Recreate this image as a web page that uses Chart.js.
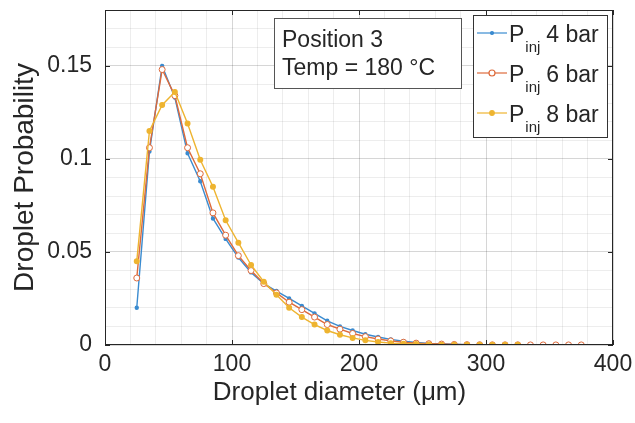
<!DOCTYPE html>
<html>
<head>
    <title>Droplet Probability</title>
    <script src="https://cdn.jsdelivr.net/npm/chart.js"></script>
    <style>
        body { margin: 0; background: #fff; }
    </style>
</head>
<body>
    <canvas id="myChart" width="635" height="423"></canvas>

    <script>
        // droplet diameter bins (um)
        var diameters = [25, 35, 45, 55, 65, 75, 85, 95, 105, 115, 125, 135, 145, 155, 165, 175, 185, 195,
                         205, 215, 225, 235, 245, 255, 265, 275, 285, 295, 305, 315, 325, 335, 345, 355, 365, 375];

        var prob4bar = [0.020, 0.104, 0.150, 0.133, 0.103, 0.088, 0.068, 0.057, 0.047, 0.039, 0.033, 0.029,
                        0.025, 0.021, 0.017, 0.013, 0.010, 0.0078, 0.0058, 0.0043, 0.003, 0.002, 0.0014,
                        0.0009, 0.0006, 0.0004, 0.0002, 0.0001];
        var prob6bar = [0.036, 0.106, 0.148, 0.134, 0.106, 0.092, 0.071, 0.059, 0.048, 0.040, 0.033, 0.028,
                        0.023, 0.019, 0.015, 0.011, 0.0085, 0.0062, 0.0045, 0.0032, 0.0022, 0.0015, 0.001,
                        0.0007, 0.0005, 0.0003, 0.0002, 0.00015, 0.0001, 0.0001, 0.0001, 0.00005, 0.00005,
                        0.00005, 0.00005, 0.00005];
        var prob8bar = [0.045, 0.115, 0.129, 0.136, 0.119, 0.0995, 0.085, 0.067, 0.055, 0.043, 0.034, 0.027,
                        0.020, 0.015, 0.011, 0.0078, 0.0055, 0.0038, 0.0025, 0.0016, 0.001, 0.0007, 0.0005,
                        0.0003, 0.0002, 0.0002, 0.0001, 0.0001, 0.0001, 0.0001, 0.0001];

        var seriesLabels = ['4 bar', '6 bar', '8 bar'];
        var xTickValues = [0, 100, 200, 300, 400];
        var yTickValues = [0, 0.05, 0.1, 0.15];
        var yTickLabels = ['0', '0.05', '0.1', '0.15'];
        var noteLines = ['Position 3', 'Temp = 180 \u00B0C'];

        var colors = ['#3a8bd0', '#dd6a3b', '#eeb430'];
        var FONT = "'Liberation Sans', Arial, sans-serif";

        function toPoints(arr) {
            return arr.map(function (v, i) { return { x: diameters[i], y: v }; });
        }
        function isTick(list, v) {
            return list.some(function (t) { return Math.abs(t - v) < 1e-6; });
        }

        Chart.defaults.font.family = FONT;
        Chart.defaults.color = '#262626';

        // MATLAB-like box, inward ticks, text note and legend with subscripts
        var decorations = {
            id: 'decorations',
            afterDraw: function (chart) {
                var c = chart.ctx, a = chart.chartArea;
                var xs = chart.scales.x, ys = chart.scales.y;
                c.save();
                c.strokeStyle = '#262626';
                c.lineWidth = 1;
                c.strokeRect(a.left + 0.5, a.top + 0.5, a.right - a.left - 1, a.bottom - a.top - 1);
                c.beginPath();
                xTickValues.forEach(function (v) {
                    var px = Math.round(xs.getPixelForValue(v)) + 0.5;
                    c.moveTo(px, a.bottom); c.lineTo(px, a.bottom - 5);
                    c.moveTo(px, a.top); c.lineTo(px, a.top + 5);
                });
                yTickValues.forEach(function (v) {
                    var py = Math.round(ys.getPixelForValue(v)) + 0.5;
                    c.moveTo(a.left, py); c.lineTo(a.left + 5, py);
                    c.moveTo(a.right, py); c.lineTo(a.right - 5, py);
                });
                c.stroke();

                // note box
                c.fillStyle = '#fff';
                c.fillRect(274, 18, 187, 70);
                c.strokeStyle = '#555';
                c.strokeRect(274.5, 18.5, 187, 70);
                c.fillStyle = '#262626';
                c.font = '23px ' + FONT;
                c.textBaseline = 'middle';
                c.fillText(noteLines[0], 282, 41);
                c.fillText(noteLines[1], 282, 69);

                // legend box
                c.fillStyle = '#fff';
                c.fillRect(473, 15, 134, 122);
                c.strokeStyle = '#333';
                c.strokeRect(473.5, 15.5, 134, 122);
                chart.data.datasets.forEach(function (ds, i) {
                    var y = 33 + i * 40;
                    c.strokeStyle = ds.borderColor;
                    c.lineWidth = 1.2;
                    c.beginPath(); c.moveTo(477, y); c.lineTo(507, y); c.stroke();
                    c.beginPath();
                    c.arc(492, y, ds.pointRadius, 0, Math.PI * 2);
                    c.fillStyle = ds.pointBackgroundColor;
                    c.fill(); c.stroke();
                    c.fillStyle = '#262626';
                    c.textBaseline = 'alphabetic';
                    c.font = '23px ' + FONT;
                    c.fillText('P', 509, y + 9);
                    var pw = c.measureText('P').width;
                    c.font = '15px ' + FONT;
                    c.fillText('inj', 509 + pw + 1, y + 19);
                    var iw = c.measureText('inj').width;
                    c.font = '23px ' + FONT;
                    c.fillText(seriesLabels[i], 509 + pw + iw + 7, y + 9);
                });
                c.restore();
            }
        };

        var ctx = document.getElementById('myChart').getContext('2d');
        var myChart = new Chart(ctx, {
            type: 'line',
            data: {
                datasets: [{
                    label: 'Pinj 4 bar',
                    data: toPoints(prob4bar),
                    borderColor: colors[0],
                    pointBackgroundColor: colors[0],
                    pointBorderColor: colors[0],
                    pointRadius: 1.5,
                    borderWidth: 1.4,
                    order: 3
                }, {
                    label: 'Pinj 6 bar',
                    data: toPoints(prob6bar),
                    borderColor: colors[1],
                    pointBackgroundColor: '#fff',
                    pointBorderColor: colors[1],
                    pointRadius: 3,
                    pointBorderWidth: 1,
                    borderWidth: 1.4,
                    order: 2
                }, {
                    label: 'Pinj 8 bar',
                    data: toPoints(prob8bar),
                    borderColor: colors[2],
                    pointBackgroundColor: colors[2],
                    pointBorderColor: colors[2],
                    pointRadius: 2.3,
                    borderWidth: 1.4,
                    order: 1
                }]
            },
            options: {
                responsive: false,
                animation: false,
                layout: { autoPadding: false, padding: { left: 0, right: 22, top: 10, bottom: 0 } },
                plugins: { legend: { display: false }, tooltip: { enabled: false } },
                elements: { line: { tension: 0 } },
                scales: {
                    x: {
                        type: 'linear',
                        position: 'bottom',
                        min: 0, max: 400,
                        afterFit: function (s) {
                            s.height = 78;
                            s.paddingLeft = 0; s.paddingRight = 0;
                        },
                        border: { display: false },
                        grid: {
                            drawTicks: false,
                            color: function (c) { return isTick(xTickValues, c.tick.value) ? 'rgba(0,0,0,0.16)' : 'rgba(0,0,0,0.07)'; }
                        },
                        ticks: {
                            stepSize: 20, autoSkip: false, maxRotation: 0, padding: 6,
                            font: { size: 23 },
                            callback: function (v) { return isTick(xTickValues, v) ? String(v) : ''; }
                        },
                        title: {
                            display: true, text: 'Droplet diameter (\u03BCm)\u2003\u2002',
                            font: { size: 26 }, padding: { top: 0, bottom: 15 }
                        }
                    },
                    y: {
                        min: 0, max: 0.18,
                        afterFit: function (s) {
                            s.width = 105;
                            s.paddingTop = 0; s.paddingBottom = 0;
                        },
                        border: { display: false },
                        grid: {
                            drawTicks: false,
                            color: function (c) { return isTick(yTickValues, c.tick.value) ? 'rgba(0,0,0,0.16)' : 'rgba(0,0,0,0.07)'; }
                        },
                        ticks: {
                            stepSize: 0.01, autoSkip: false, padding: 13,
                            font: { size: 23 },
                            callback: function (v) {
                                for (var i = 0; i < yTickValues.length; i++) {
                                    if (Math.abs(yTickValues[i] - v) < 1e-6) return yTickLabels[i];
                                }
                                return '';
                            }
                        },
                        title: {
                            display: true, text: 'Droplet Probability',
                            font: { size: 28 }, padding: { top: 8, bottom: 0 }
                        }
                    }
                }
            },
            plugins: [decorations]
        });
    </script>
</body>
</html>
